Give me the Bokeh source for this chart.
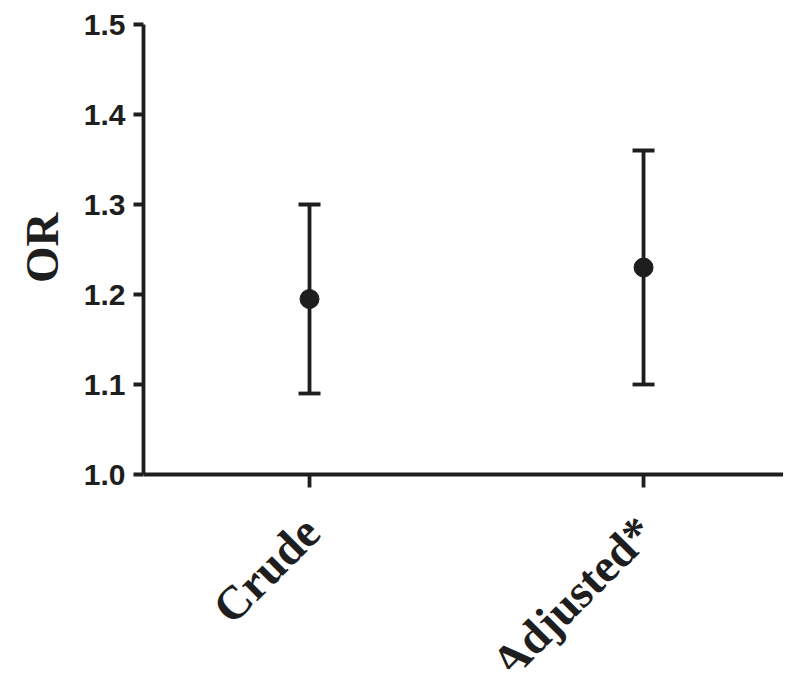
import math
from bokeh.plotting import figure
from bokeh.models import (ColumnDataSource, Range1d, FixedTicker, PrintfTickFormatter,
                          Whisker, TeeHead, Label, Span, Title)
from bokeh.embed import file_html
from bokeh.resources import INLINE

categories = ["Crude", "Adjusted*"]
x_pos = [1, 2]
or_values = [1.195, 1.23]
ci_lower = [1.09, 1.10]
ci_upper = [1.30, 1.36]
y_ticks = [1.0, 1.1, 1.2, 1.3, 1.4, 1.5]

INK = "#1e1e1e"
Y_MIN, Y_MAX = 1.0, 1.5
PX_PER_UNIT = 900.0          # 450 px frame section for 0.5 OR
FIG_H, TOP = 669, 24
Y_START = Y_MAX - (FIG_H - TOP) / PX_PER_UNIT   # frame reaches the bottom edge
TICK_LEN = 13 / PX_PER_UNIT

src = ColumnDataSource(dict(x=x_pos, y=or_values, lo=ci_lower, hi=ci_upper))
tick_src = ColumnDataSource(dict(x=x_pos, y0=[Y_MIN] * len(x_pos),
                                 y1=[Y_MIN - TICK_LEN] * len(x_pos)))

p = figure(width=783, height=FIG_H, output_backend="svg", toolbar_location=None,
           x_range=Range1d(0.503, 2.419), y_range=Range1d(Y_START, Y_MAX),
           x_axis_location=None,
           min_border_left=143, min_border_right=0, min_border_top=TOP,
           min_border_bottom=0)
p.outline_line_color = None
p.xgrid.visible = False
p.ygrid.visible = False
p.background_fill_color = "white"
p.border_fill_color = "white"

w = Whisker(source=src, base="x", upper="hi", lower="lo", dimension="height",
            line_color=INK, line_width=3.8,
            upper_head=TeeHead(size=22, line_color=INK, line_width=3.8),
            lower_head=TeeHead(size=22, line_color=INK, line_width=3.8))
p.add_layout(w)
p.scatter("x", "y", source=src, size=19, color=INK)

# y axis
p.yaxis.bounds = (Y_MIN, Y_MAX)
p.yaxis.ticker = FixedTicker(ticks=y_ticks)
p.yaxis.formatter = PrintfTickFormatter(format="%.1f")
p.yaxis.major_label_text_font = "Liberation Sans"
p.yaxis.major_label_text_font_style = "bold"
p.yaxis.major_label_text_font_size = "30px"
p.yaxis.major_label_text_color = INK
p.yaxis.major_label_standoff = 8
p.yaxis.minor_tick_line_color = None
p.yaxis.major_tick_out = 10
p.yaxis.major_tick_in = 0
p.yaxis.axis_line_width = 3.8
p.yaxis.axis_line_color = INK
p.yaxis.major_tick_line_width = 3.8
p.yaxis.major_tick_line_color = INK

# y axis title, placed alongside the bounded axis section
p.add_layout(Title(text="OR", align="right", offset=188, standoff=26,
                   text_line_height=0.75,
                   text_font="Liberation Serif", text_font_style="bold",
                   text_font_size="47px", text_color=INK), "left")

# x axis drawn in the frame: baseline, ticks, rotated category labels
p.add_layout(Span(location=Y_MIN, dimension="width", line_color=INK, line_width=3.8))
p.segment(x0="x", y0="y0", x1="x", y1="y1", source=tick_src,
          line_color=INK, line_width=3.8)
for xv, cat in zip(x_pos, categories):
    p.add_layout(Label(x=xv, y=Y_MIN, text=cat, angle=math.pi / 4,
                       x_offset=2, y_offset=-50,
                       text_align="right", text_baseline="middle",
                       text_font="Liberation Serif", text_font_style="bold",
                       text_font_size="47px", text_color=INK))

open("out.html", "w").write(file_html(p, INLINE))
